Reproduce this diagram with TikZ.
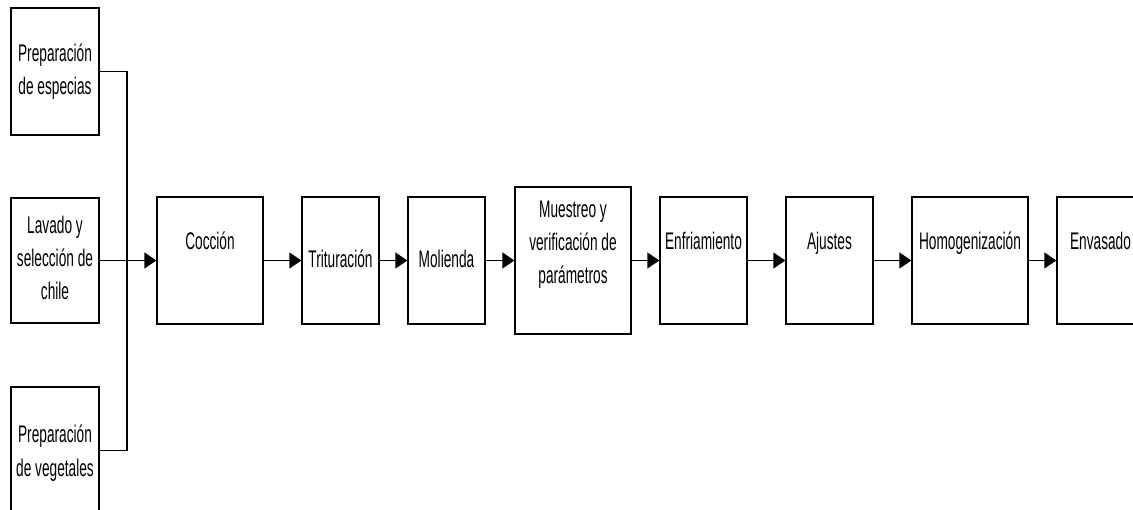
\documentclass[tikz,border=0pt]{standalone}
\usepackage{fontspec}
\setmainfont{Liberation Sans}[FakeStretch=0.57]
\usetikzlibrary{arrows.meta}
\begin{document}
\begin{tikzpicture}[x=1pt,y=-1pt,
  stagebox/.style={draw=black, line width=1.3pt, rectangle, inner sep=0pt, fill=white},
  label text/.style={font=\fontsize{24}{33}\selectfont, align=center, anchor=base, inner sep=0pt},
  flow/.style={line width=1.3pt, -{Triangle[length=12pt,width=16pt]}},
  feed/.style={line width=1.3pt}]
\useasboundingbox (0,0) rectangle (1133,510);

% input boxes on the left
\node[stagebox, minimum width=88pt, minimum height=127pt] (esp) at (55,71.5) {};
\node[stagebox, minimum width=88pt, minimum height=125pt] (lav) at (55,260.5) {};
\node[stagebox, minimum width=88pt, minimum height=127pt] (veg) at (55,450.5) {};

% process chain
\node[stagebox, minimum width=106pt, minimum height=127pt] (coc) at (210,260.5) {};
\node[stagebox, minimum width=77pt, minimum height=127pt] (tri) at (340.5,260.5) {};
\node[stagebox, minimum width=77pt, minimum height=127pt] (mol) at (446.5,260.5) {};
\node[stagebox, minimum width=116pt, minimum height=147pt] (mue) at (573,260.5) {};
\node[stagebox, minimum width=87pt, minimum height=127pt] (enf) at (703.5,260.5) {};
\node[stagebox, minimum width=87pt, minimum height=127pt] (aju) at (829.5,260.5) {};
\node[stagebox, minimum width=116pt, minimum height=127pt] (hom) at (970,260.5) {};
\node[stagebox, minimum width=87pt, minimum height=127pt] (env) at (1100.5,260.5) {};

% texts (multi-line nodes are placed by the baseline of their last line)
\node[label text] (tesp) at (55,95) {Preparación\\de especias};
\node[label text] (tlav) at (55,300) {Lavado y\\selección de\\chile};
\node[label text] (tveg) at (55,476) {Preparación\\de vegetales};
\node[label text] (tcoc) at (210,250) {Cocción};
\node[label text] (ttri) at (340.5,268) {Trituración};
\node[label text] (tmol) at (446.5,268) {Molienda};
\node[label text] (tmue) at (573,284) {Muestreo y\\verificación de\\parámetros};
\node[label text] (tenf) at (703.5,250) {Enfriamiento};
\node[label text] (taju) at (829.5,250) {Ajustes};
\node[label text] (thom) at (970,250) {Homogenización};
\node[label text] (tenv) at (1100.5,250) {Envasado};

% feeding bracket
\coordinate (bus) at (127,71.5);
\draw[feed] (esp.east) -- (bus) |- (veg.east);

% arrows
\draw[flow] (lav.east) -- (coc.west);
\draw[flow] (coc.east) -- (tri.west);
\draw[flow] (tri.east) -- (mol.west);
\draw[flow] (mol.east) -- (mue.west);
\draw[flow] (mue.east) -- (enf.west);
\draw[flow] (enf.east) -- (aju.west);
\draw[flow] (aju.east) -- (hom.west);
\draw[flow] (hom.east) -- (env.west);
\end{tikzpicture}
\end{document}
